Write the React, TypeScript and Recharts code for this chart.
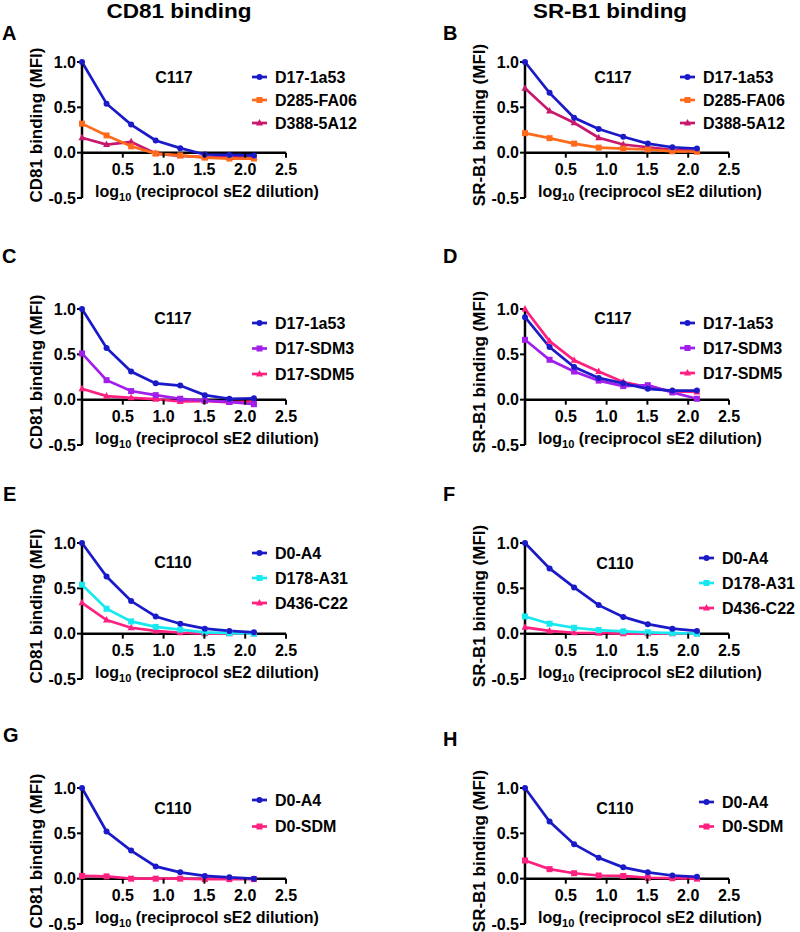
import React from "react";
import { LineChart, Line, XAxis, YAxis, ReferenceLine } from "recharts";

const FONT = "'Liberation Sans', Arial, Helvetica, sans-serif";

// log10 of the reciprocal 2-fold dilution series
const dilutionLog = [0, 0.301, 0.602, 0.903, 1.204, 1.505, 1.806, 2.107];
const xTicks = [0.5, 1.0, 1.5, 2.0, 2.5];
const yTicks = [-0.5, 0, 0.5, 1.0];

// A - CD81, C117
const cd81C117_1a53 = [1.0, 0.54, 0.31, 0.135, 0.05, -0.02, -0.025, -0.03];
const cd81C117_FA06 = [0.32, 0.19, 0.07, -0.01, -0.03, -0.055, -0.065, -0.065];
const cd81C117_5A12 = [0.165, 0.09, 0.12, -0.01, -0.035, -0.05, -0.05, -0.05];

// B - SR-B1, C117
const srb1C117_1a53 = [1.0, 0.66, 0.385, 0.26, 0.175, 0.1, 0.06, 0.045];
const srb1C117_FA06 = [0.215, 0.16, 0.1, 0.055, 0.045, 0.035, 0.015, 0.01];
const srb1C117_5A12 = [0.71, 0.46, 0.33, 0.165, 0.09, 0.06, 0.03, 0.02];

// C - CD81, C117 SDM
const cd81Sdm_1a53 = [1.0, 0.57, 0.31, 0.18, 0.155, 0.05, 0.01, 0.015];
const cd81Sdm_SDM3 = [0.51, 0.215, 0.095, 0.05, 0.01, -0.01, -0.025, -0.05];
const cd81Sdm_SDM5 = [0.12, 0.04, 0.02, 0.005, -0.02, -0.015, -0.03, -0.02];

// D - SR-B1, C117 SDM
const srb1Sdm_1a53 = [0.91, 0.58, 0.36, 0.24, 0.18, 0.12, 0.1, 0.1];
const srb1Sdm_SDM3 = [0.66, 0.44, 0.31, 0.21, 0.15, 0.16, 0.08, 0.01];
const srb1Sdm_SDM5 = [1.0, 0.645, 0.435, 0.31, 0.195, 0.14, 0.09, 0.085];

// E - CD81, C110
const cd81C110_A4 = [1.0, 0.63, 0.36, 0.19, 0.11, 0.055, 0.03, 0.015];
const cd81C110_A31 = [0.54, 0.275, 0.135, 0.075, 0.045, 0.015, 0.005, 0];
const cd81C110_C22 = [0.34, 0.15, 0.065, 0.03, 0.01, 0, 0, 0];

// F - SR-B1, C110
const srb1C110_A4 = [1.0, 0.72, 0.51, 0.315, 0.185, 0.105, 0.055, 0.03];
const srb1C110_A31 = [0.19, 0.11, 0.065, 0.04, 0.025, 0.015, 0.005, 0];
const srb1C110_C22 = [0.07, 0.03, 0.01, 0.005, 0, 0, 0, 0];

// G - CD81, C110 SDM
const cd81D0_A4 = [1.0, 0.52, 0.31, 0.135, 0.07, 0.03, 0.015, 0];
const cd81D0_SDM = [0.03, 0.025, 0, 0, 0, -0.005, -0.005, -0.005];

// H - SR-B1, C110 SDM
const srb1D0_A4 = [1.0, 0.63, 0.38, 0.23, 0.125, 0.07, 0.035, 0.02];
const srb1D0_SDM = [0.2, 0.105, 0.06, 0.035, 0.03, 0.01, 0.005, 0];

const BLUE = "#1A1AC8";
const ORANGE = "#FF6B1A";
const CRIMSON = "#C8186E";
const PURPLE = "#A21EEB";
const PINK = "#FF2080";
const CYAN = "#18E8F0";

type Shape = "circle" | "square" | "triangle";
type Series = { name: string; values: number[]; color: string; shape: Shape };

const PLOT_H = 136;
const PLOT_W = 204;
const AXIS_W = 82;
const TOP = 12;
const BOTTOM = 12;
const ZERO = (PLOT_H * 2) / 3;

const panels = [
  {
    letter: "A", yLabel: "CD81 binding (MFI)", strain: "C117",
    ox: 82, oy: 62, letterPos: [2, 39], strainPos: [174, 77],
    legendX: 275, legendY: 77, legendStep: 23,
    series: [
      { name: "D17-1a53", values: cd81C117_1a53, color: BLUE, shape: "circle" },
      { name: "D285-FA06", values: cd81C117_FA06, color: ORANGE, shape: "square" },
      { name: "D388-5A12", values: cd81C117_5A12, color: CRIMSON, shape: "triangle" },
    ] as Series[],
  },
  {
    letter: "B", yLabel: "SR-B1 binding (MFI)", strain: "C117",
    ox: 525, oy: 62, letterPos: [443, 39], strainPos: [613, 77],
    legendX: 703, legendY: 77, legendStep: 23,
    series: [
      { name: "D17-1a53", values: srb1C117_1a53, color: BLUE, shape: "circle" },
      { name: "D285-FA06", values: srb1C117_FA06, color: ORANGE, shape: "square" },
      { name: "D388-5A12", values: srb1C117_5A12, color: CRIMSON, shape: "triangle" },
    ] as Series[],
  },
  {
    letter: "C", yLabel: "CD81 binding (MFI)", strain: "C117",
    ox: 82, oy: 309, letterPos: [2, 262], strainPos: [173, 318],
    legendX: 275, legendY: 323, legendStep: 25.5,
    series: [
      { name: "D17-1a53", values: cd81Sdm_1a53, color: BLUE, shape: "circle" },
      { name: "D17-SDM3", values: cd81Sdm_SDM3, color: PURPLE, shape: "square" },
      { name: "D17-SDM5", values: cd81Sdm_SDM5, color: PINK, shape: "triangle" },
    ] as Series[],
  },
  {
    letter: "D", yLabel: "SR-B1 binding (MFI)", strain: "C117",
    ox: 525, oy: 309, letterPos: [443, 262], strainPos: [613, 318],
    legendX: 703, legendY: 323, legendStep: 25,
    series: [
      { name: "D17-1a53", values: srb1Sdm_1a53, color: BLUE, shape: "circle" },
      { name: "D17-SDM3", values: srb1Sdm_SDM3, color: PURPLE, shape: "square" },
      { name: "D17-SDM5", values: srb1Sdm_SDM5, color: PINK, shape: "triangle" },
    ] as Series[],
  },
  {
    letter: "E", yLabel: "CD81 binding (MFI)", strain: "C110",
    ox: 82, oy: 543, letterPos: [3, 500], strainPos: [173, 562],
    legendX: 275, legendY: 553, legendStep: 25,
    series: [
      { name: "D0-A4", values: cd81C110_A4, color: BLUE, shape: "circle" },
      { name: "D178-A31", values: cd81C110_A31, color: CYAN, shape: "square" },
      { name: "D436-C22", values: cd81C110_C22, color: PINK, shape: "triangle" },
    ] as Series[],
  },
  {
    letter: "F", yLabel: "SR-B1 binding (MFI)", strain: "C110",
    ox: 525, oy: 543, letterPos: [443, 500], strainPos: [615, 563],
    legendX: 722, legendY: 558, legendStep: 25,
    series: [
      { name: "D0-A4", values: srb1C110_A4, color: BLUE, shape: "circle" },
      { name: "D178-A31", values: srb1C110_A31, color: CYAN, shape: "square" },
      { name: "D436-C22", values: srb1C110_C22, color: PINK, shape: "triangle" },
    ] as Series[],
  },
  {
    letter: "G", yLabel: "CD81 binding (MFI)", strain: "C110",
    ox: 82, oy: 788, letterPos: [3, 741], strainPos: [173, 808],
    legendX: 275, legendY: 800, legendStep: 26.5,
    series: [
      { name: "D0-A4", values: cd81D0_A4, color: BLUE, shape: "circle" },
      { name: "D0-SDM", values: cd81D0_SDM, color: PINK, shape: "square" },
    ] as Series[],
  },
  {
    letter: "H", yLabel: "SR-B1 binding (MFI)", strain: "C110",
    ox: 525, oy: 788, letterPos: [443, 745], strainPos: [615, 808],
    legendX: 722, legendY: 802, legendStep: 24.5,
    series: [
      { name: "D0-A4", values: srb1D0_A4, color: BLUE, shape: "circle" },
      { name: "D0-SDM", values: srb1D0_SDM, color: PINK, shape: "square" },
    ] as Series[],
  },
];

function Marker({ cx, cy, color, shape }: { cx?: number; cy?: number; color: string; shape: Shape }) {
  if (cx == null || cy == null) return null;
  if (shape === "square") {
    return <rect x={cx - 3} y={cy - 3} width={6} height={6} fill={color} />;
  }
  if (shape === "triangle") {
    return <polygon points={`${cx},${cy - 4} ${cx + 3.5},${cy + 2.5} ${cx - 3.5},${cy + 2.5}`} fill={color} />;
  }
  return <circle cx={cx} cy={cy} r={3} fill={color} />;
}

// x axis crosses at y = 0, so ticks are lifted from the plot bottom to the zero line
function XTick({ x, y, payload }: any) {
  return (
    <g transform={`translate(${x},${y - PLOT_H / 3})`}>
      <line y1={0} y2={5} stroke="#000" strokeWidth={2} />
      <text y={22} textAnchor="middle" fill="#000" fontSize={16} fontWeight="bold" fontFamily={FONT}>
        {Number(payload.value).toFixed(1)}
      </text>
    </g>
  );
}

function Panel({ p }: { p: (typeof panels)[number] }) {
  const data = dilutionLog.map((x, j) => {
    const row: Record<string, number> = { x };
    p.series.forEach((s, i) => (row[`s${i}`] = s.values[j]));
    return row;
  });
  return (
    <div style={{ position: "absolute", left: p.ox - AXIS_W, top: p.oy - TOP }}>
      <LineChart
        width={AXIS_W + PLOT_W + 114}
        height={TOP + PLOT_H + 4 + BOTTOM}
        data={data}
        margin={{ top: TOP, right: 114, bottom: BOTTOM, left: 0 }}
      >
        <XAxis
          dataKey="x"
          type="number"
          domain={[0, 2.5]}
          ticks={xTicks}
          interval={0}
          height={4}
          axisLine={false}
          tickLine={false}
          tickSize={0}
          tickMargin={0}
          tick={<XTick />}
        />
        <YAxis
          type="number"
          domain={[-0.5, 1]}
          ticks={yTicks}
          interval={0}
          width={AXIS_W}
          axisLine={{ stroke: "#000", strokeWidth: 2.5 }}
          tickLine={{ stroke: "#000", strokeWidth: 2 }}
          tickSize={5}
          tickMargin={1}
          tick={{ fill: "#000", fontSize: 16, fontWeight: "bold", fontFamily: FONT }}
          tickFormatter={(v: number) => v.toFixed(1)}
        />
        <ReferenceLine y={0} stroke="#000" strokeWidth={2.5} />
        {p.series
          .map((s, i) => (
            <Line
              key={s.name}
              type="linear"
              dataKey={`s${i}`}
              stroke={s.color}
              strokeWidth={2.7}
              dot={(d: any) => <Marker key={`${s.name}-${d.index}`} cx={d.cx} cy={d.cy} color={s.color} shape={s.shape} />}
              activeDot={false}
              isAnimationActive={false}
            />
          ))
          .reverse()}
      </LineChart>
    </div>
  );
}

function Annotations() {
  const bold = { fontFamily: FONT, fontWeight: "bold" as const, fill: "#000" };
  return (
    <svg width={800} height={932} style={{ position: "absolute", left: 0, top: 0, pointerEvents: "none" }}>
      <text x={179} y={18} textAnchor="middle" fontSize={20} textLength={145} lengthAdjust="spacingAndGlyphs" {...bold}>
        CD81 binding
      </text>
      <text x={610} y={18} textAnchor="middle" fontSize={20} textLength={154} lengthAdjust="spacingAndGlyphs" {...bold}>
        SR-B1 binding
      </text>
      {panels.map((p) => (
        <g key={p.letter}>
          <text x={p.letterPos[0]} y={p.letterPos[1] + 1} fontSize={20} {...bold}>
            {p.letter}
          </text>
          <text
            transform={`translate(${p.ox - 46},${p.oy + PLOT_H / 2 - 5}) rotate(-90)`}
            textAnchor="middle"
            dominantBaseline="central"
            fontSize={17}
            {...bold}
          >
            {p.yLabel}
          </text>
          <text x={p.ox + 125} y={p.oy + ZERO + 44} textAnchor="middle" fontSize={16} {...bold}>
            log
            <tspan fontSize={11} dy={4}>10</tspan>
            <tspan dy={-4}> (reciprocol sE2 dilution)</tspan>
          </text>
          <text x={p.strainPos[0]} y={p.strainPos[1] + 5.5} textAnchor="middle" fontSize={16} {...bold}>
            {p.strain}
          </text>
          {p.series.map((s, i) => {
            const cy = p.legendY + i * p.legendStep;
            return (
              <g key={s.name}>
                <line x1={p.legendX - 23} x2={p.legendX - 8} y1={cy} y2={cy} stroke={s.color} strokeWidth={2.7} />
                <Marker cx={p.legendX - 15.5} cy={cy} color={s.color} shape={s.shape} />
                <text x={p.legendX} y={cy + 5.5} fontSize={16} {...bold}>
                  {s.name}
                </text>
              </g>
            );
          })}
        </g>
      ))}
    </svg>
  );
}

export default function App() {
  return (
    <div style={{ position: "absolute", left: 0, top: 0, width: 800, height: 932, background: "#fff", fontFamily: FONT }}>
      {panels.map((p) => (
        <Panel key={p.letter} p={p} />
      ))}
      <Annotations />
    </div>
  );
}
